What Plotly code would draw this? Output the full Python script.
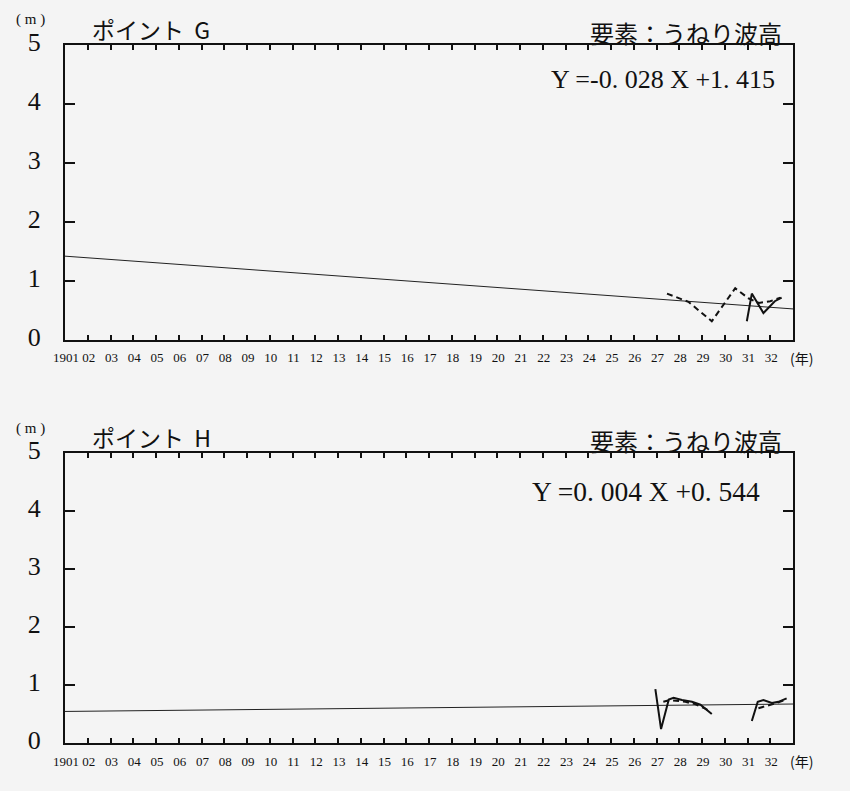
import plotly.graph_objects as go

# ---------------- data ----------------
years = list(range(1901, 1933))
year_labels = ["1901"] + [f"{y % 100:02d}" for y in range(1902, 1933)]
y_ticks = [0, 1, 2, 3, 4, 5]

# Point G (swell height, m)
g_dash_x = [1927.46, 1928.05, 1928.40, 1929.43, 1930.46, 1931.04, 1931.50, 1932.00, 1932.45]
g_dash_y = [0.78, 0.70, 0.64, 0.31, 0.87, 0.70, 0.62, 0.65, 0.71]
g_solid_x = [1930.97, 1931.19, 1931.70, 1932.20, 1932.50]
g_solid_y = [0.31, 0.78, 0.45, 0.65, 0.71]
g_slope, g_intercept = -0.028, 1.415

# Point H (swell height, m)
h_dash_x = [1927.30, 1927.60, 1928.27, 1928.70, 1929.10, 1929.35,
            None,
            1931.48, 1931.78, 1932.20, 1932.65]
h_dash_y = [0.71, 0.74, 0.71, 0.67, 0.60, 0.55,
            None,
            0.60, 0.63, 0.68, 0.74]
h_solid_x = [1926.95, 1927.20, 1927.54, 1927.75, 1928.12, 1928.56, 1928.93, 1929.43,
             None,
             1931.19, 1931.45, 1931.70, 1932.07, 1932.36, 1932.72]
h_solid_y = [0.93, 0.24, 0.75, 0.78, 0.74, 0.71, 0.66, 0.50,
             None,
             0.38, 0.71, 0.74, 0.69, 0.71, 0.77]
h_slope, h_intercept = 0.004, 0.544

BG = "#f4f4f4"
SERIF = "Liberation Serif"
CJK = "Noto Sans CJK JP"

fig = go.Figure()

panels = [
    dict(xa="x", ya="y", dx=g_dash_x, dy=g_dash_y, sx=g_solid_x, sy=g_solid_y,
         slope=g_slope, icpt=g_intercept),
    dict(xa="x2", ya="y2", dx=h_dash_x, dy=h_dash_y, sx=h_solid_x, sy=h_solid_y,
         slope=h_slope, icpt=h_intercept),
]
for p in panels:
    rx = [1901, 1933]
    ry = [p["icpt"] + p["slope"] * (v - 1901) for v in rx]
    fig.add_trace(go.Scatter(x=rx, y=ry, mode="lines", xaxis=p["xa"], yaxis=p["ya"],
                             line=dict(color="#222", width=1), showlegend=False,
                             hoverinfo="skip"))
    fig.add_trace(go.Scatter(x=p["dx"], y=p["dy"], mode="lines", xaxis=p["xa"], yaxis=p["ya"],
                             line=dict(color="#111", width=2, dash="6px,4px"),
                             showlegend=False, connectgaps=False))
    fig.add_trace(go.Scatter(x=p["sx"], y=p["sy"], mode="lines", xaxis=p["xa"], yaxis=p["ya"],
                             line=dict(color="#111", width=2), showlegend=False,
                             connectgaps=False))

W, H = 850, 791
x_dom = [65 / W, 793 / W]
top_dom = [1 - 339.5 / H, 1 - 45 / H]
bot_dom = [1 - 743 / H, 1 - 453 / H]

xcommon = dict(range=[1901, 1933], tickvals=years, ticktext=year_labels,
               ticks="inside", ticklen=5, tickwidth=1.5, tickcolor="#111",
               showline=True, linewidth=2, linecolor="#111", mirror="ticks",
               showgrid=False, zeroline=False, domain=x_dom, automargin=False,
               tickangle=0,
               tickfont=dict(family=SERIF, size=13, color="#111"),
               ticklabelstandoff=5, ticklabelshift=1)
ycommon = dict(range=[0, 5], tickvals=y_ticks, ticktext=[str(v) for v in y_ticks],
               ticks="inside", ticklen=10, tickwidth=1.5, tickcolor="#111",
               showline=True, linewidth=2, linecolor="#111", mirror="ticks",
               showgrid=False, zeroline=False, automargin=False,
               tickfont=dict(family=SERIF, size=26, color="#111"),
               ticklabelstandoff=17, ticklabelshift=-3)

fig.update_layout(
    width=W, height=H, margin=dict(l=0, r=0, t=0, b=0),
    paper_bgcolor=BG, plot_bgcolor=BG, showlegend=False,
    xaxis=dict(**xcommon, anchor="y"),
    yaxis=dict(**ycommon, domain=top_dom, anchor="x"),
    xaxis2=dict(**xcommon, anchor="y2"),
    yaxis2=dict(**ycommon, domain=bot_dom, anchor="x2"),
)

def ann(text, x, y, size, font, xanchor="left", yanchor="middle"):
    fig.add_annotation(text=text, x=x / W, y=1 - y / H, xref="paper", yref="paper",
                       showarrow=False, xanchor=xanchor, yanchor=yanchor,
                       font=dict(family=font, size=size, color="#111"))

for (ty, name, eq, eqx, eqy, eqs) in [
    (0, "ポイント\u00a0\u00a0G", "Y =-0. 028 X +1. 415", 777, 80, 26),
    (408, "ポイント\u00a0\u00a0H", "Y =0. 004 X +0. 544", 762, 491, 27.5),
]:
    ann("( m )", 30, 20 + ty, 15, SERIF, xanchor="center")
    ann(name, 90, 29 + ty, 23, CJK)
    ann("要素：うねり波高", 784, 32 + ty, 24, CJK, xanchor="right")
    ann(eq, eqx, eqy, eqs, SERIF, xanchor="right")

ann("(年)", 788, 358, 14, CJK)
ann("(年)", 788, 761, 14, CJK)

fig.write_html("out.html", config={"displayModeBar": False},
               post_script="document.body.style.margin='0';document.body.style.padding='0';")
